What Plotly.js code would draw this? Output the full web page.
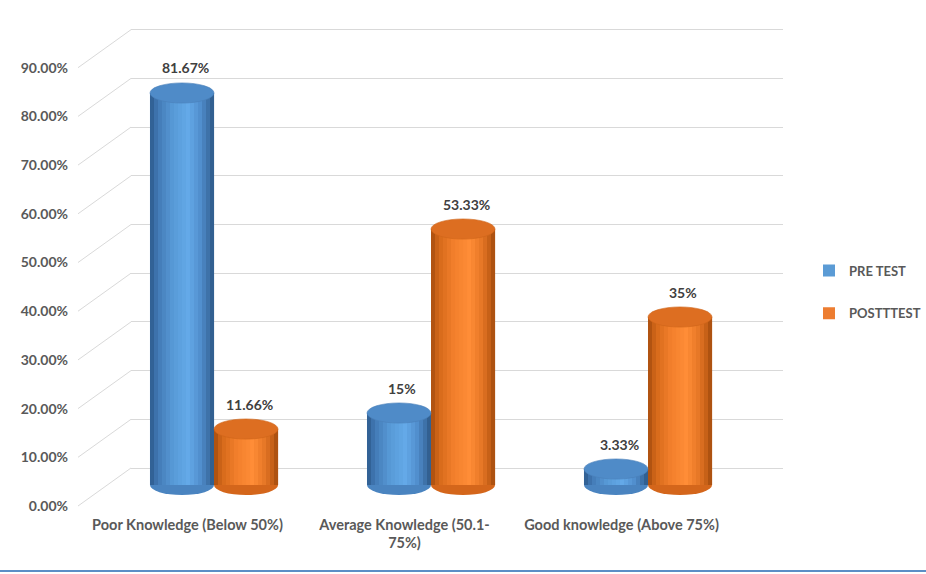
<!DOCTYPE html>
<html>
<head>
<meta charset="utf-8">
<script src="https://cdn.plot.ly/plotly-3.0.1.min.js"></script>
<style>html,body{margin:0;padding:0;background:#fff;}#chart{width:926px;height:574px;}</style>
</head>
<body>
<div id="chart"></div>
<script>
// ---- data ----
const categories = ['Poor Knowledge (Below 50%)', 'Average Knowledge (50.1-<br>75%)', 'Good knowledge (Above 75%)'];
const seriesNames = ['PRE TEST', 'POSTTTEST'];
const preTest = [81.67, 15, 3.33];
const postTest = [11.66, 53.33, 35];
const yTickValues = [0, 10, 20, 30, 40, 50, 60, 70, 80, 90];
const yTickLabels = ['0.00%', '10.00%', '20.00%', '30.00%', '40.00%', '50.00%', '60.00%', '70.00%', '80.00%', '90.00%'];

// ---- styling helpers ----
const W = 926, H = 574;
const px = v => v / W;
const py = v => 1 - v / H;
const FONT = 'Lato, "Open Sans", sans-serif';
const barW = 0.295;

const palettes = [
  { base: '#5b9bd5', cap: '#4f8bc8', bottom: '#4a84c0',
    stops: [[0, '#2d5a8b'], [0.12, '#4279b5'], [0.35, '#5799d6'], [0.6, '#64a9e8'], [0.8, '#4f8ccb'], [0.93, '#3a6ca2'], [1, '#2c5783']] },
  { base: '#ed7d31', cap: '#dd6e21', bottom: '#d4661b',
    stops: [[0, '#a44c0e'], [0.12, '#d46819'], [0.35, '#f27f2c'], [0.6, '#ff8d37'], [0.8, '#e57625'], [0.93, '#c05c15'], [1, '#9f4a0e']] }
];

function hex2rgb(h) { return [1, 3, 5].map(i => parseInt(h.substr(i, 2), 16)); }
function colorAt(stops, t) {
  for (let i = 0; i < stops.length - 1; i++) {
    const [t0, c0] = stops[i], [t1, c1] = stops[i + 1];
    if (t >= t0 && t <= t1) {
      const f = (t - t0) / (t1 - t0 || 1);
      const a = hex2rgb(c0), b = hex2rgb(c1);
      const c = a.map((v, k) => Math.round(v + (b[k] - v) * f));
      return 'rgb(' + c.join(',') + ')';
    }
  }
  return stops[stops.length - 1][1];
}

const seriesValues = [preTest, postTest];
const traces = [];
// dummy trace so that the back-wall subplot exists
traces.push({ type: 'scatter', x: [], y: [], xaxis: 'x', yaxis: 'y', showlegend: false, hoverinfo: 'skip' });

const N = 16;
seriesValues.forEach((vals, s) => {
  const start = s === 0 ? -barW : 0;
  const pal = palettes[s];
  traces.push({
    type: 'bar', name: seriesNames[s], x: categories, y: vals, xaxis: 'x2', yaxis: 'y2',
    offset: start, width: barW, marker: { color: pal.base, line: { width: 0 } },
    legendgroup: 'g' + s, hoverinfo: 'y'
  });
  for (let k = 0; k < N; k++) {
    const t = (k + 0.5) / N;
    traces.push({
      type: 'bar', x: categories, y: vals, xaxis: 'x2', yaxis: 'y2',
      offset: start + k * barW / N, width: barW / N * 1.02,
      marker: { color: colorAt(pal.stops, t), line: { width: 0 } },
      showlegend: false, legendgroup: 'g' + s, hoverinfo: 'skip'
    });
  }
});
// dummy trace so that the front-label subplot exists
traces.push({ type: 'scatter', x: [], y: [], xaxis: 'x3', yaxis: 'y3', showlegend: false, hoverinfo: 'skip' });

// ---- shapes: caps, bottoms, diagonals, bottom rule ----
const shapes = [];
const capH = 2.1;
seriesValues.forEach((vals, s) => {
  const start = s === 0 ? -barW : 0;
  const pal = palettes[s];
  vals.forEach((v, i) => {
    shapes.push({ type: 'circle', xref: 'x2', yref: 'y2', layer: 'between',
      x0: i + start, x1: i + start + barW, y0: -capH, y1: capH,
      fillcolor: pal.bottom, line: { width: 0 } });
    shapes.push({ type: 'circle', xref: 'x2', yref: 'y2', layer: 'above',
      x0: i + start, x1: i + start + barW, y0: v - capH, y1: v + capH,
      fillcolor: pal.cap, line: { width: 0.6, color: s === 0 ? '#4a80b8' : '#cf6519' } });
  });
});
const depth = (506 - 468) / 4.87;
yTickValues.forEach(v => {
  shapes.push({ type: 'line', xref: 'paper', yref: 'y3', x0: px(78), x1: px(131), y0: v, y1: v + depth,
    line: { color: '#d9d9d9', width: 1 } });
});
shapes.push({ type: 'line', xref: 'paper', yref: 'paper', x0: 0, x1: 1, y0: py(571), y1: py(571),
  line: { color: '#5b8ec6', width: 2 } });

// ---- data labels ----
const annotations = [];
seriesValues.forEach((vals, s) => {
  vals.forEach((v, i) => {
    annotations.push({ xref: 'x2', yref: 'y2', x: i + (s === 0 ? -barW / 2 : barW / 2) + 0.015, y: v,
      yshift: 25, showarrow: false, text: String(v) + '%',
      font: { family: FONT, size: 14, color: '#404040', weight: 700 } });
  });
});

const hidden = { showgrid: false, zeroline: false, showline: false, showticklabels: false, ticks: '' };

const layout = {
  width: W, height: H,
  margin: { l: 0, r: 0, t: 0, b: 0 },
  paper_bgcolor: '#ffffff', plot_bgcolor: 'rgba(0,0,0,0)',
  barmode: 'overlay',
  showlegend: true,
  // back wall (gridlines)
  xaxis: Object.assign({}, hidden, { domain: [px(131), px(783)], range: [0, 1], anchor: 'y' }),
  yaxis: { domain: [0, 1], anchor: 'x', range: [(468 - H) / 4.87, 468 / 4.87],
    tickmode: 'array', tickvals: yTickValues, showticklabels: false, ticks: '',
    showgrid: true, gridcolor: '#d9d9d9', gridwidth: 1, zeroline: false, showline: false },
  // bars
  xaxis2: Object.assign({}, hidden, { domain: [px(105.5), px(756.5)], range: [-0.5, 2.5], anchor: 'y2', type: 'category' }),
  yaxis2: Object.assign({}, hidden, { domain: [0, 1], anchor: 'x2', range: [(485 - H) / 4.8, 485 / 4.8] }),
  // front labels
  xaxis3: { domain: [px(79), px(730)], range: [-0.5, 2.5], anchor: 'free', position: py(514),
    tickmode: 'array', tickvals: [0, 1, 2], ticktext: categories, ticks: '',
    showgrid: false, zeroline: false, showline: false,
    tickfont: { family: FONT, size: 14.5, color: '#595959', weight: 700 } },
  yaxis3: { domain: [0, 1], anchor: 'free', position: px(68), range: [(506 - H) / 4.87, 506 / 4.87],
    tickmode: 'array', tickvals: yTickValues, ticktext: yTickLabels, ticks: '',
    showgrid: false, zeroline: false, showline: false,
    tickfont: { family: FONT, size: 14, color: '#595959', weight: 700 } },
  legend: { x: px(809), y: py(292), xanchor: 'left', yanchor: 'middle', tracegroupgap: 23,
    bgcolor: 'rgba(0,0,0,0)', font: { family: FONT, size: 13, color: '#595959', weight: 700 } },
  shapes: shapes,
  annotations: annotations
};

Plotly.newPlot('chart', traces, layout, { displayModeBar: false, staticPlot: true });
</script>
</body>
</html>
